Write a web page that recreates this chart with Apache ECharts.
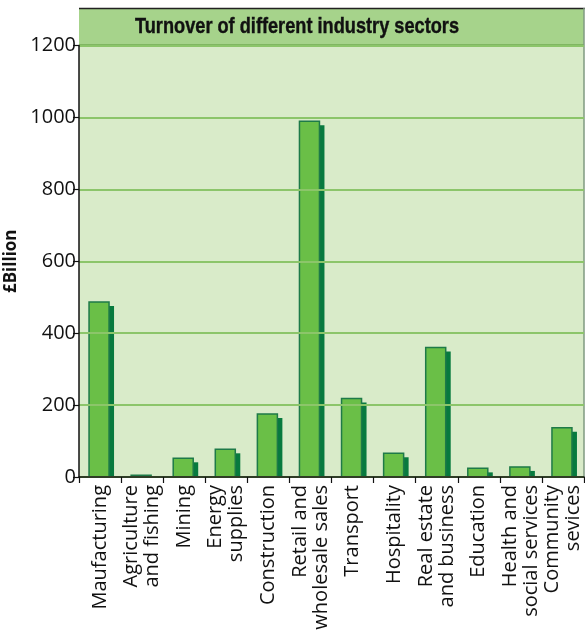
<!DOCTYPE html>
<html><head><meta charset="utf-8">
<script src="https://cdn.jsdelivr.net/npm/echarts@6/dist/echarts.min.js"></script>
<style>html,body{margin:0;padding:0;background:#fff}#c{width:585px;height:637px}</style>
</head><body><div id="c"></div>
<script>
const categories = ['Maufacturing','Agriculture\nand fishing','Mining','Energy\nsupplies','Construction','Retail and\nwholesale sales','Transport','Hospitality','Real estate\nand business','Education','Health and\nsocial services','Community\nsevices'];
const turnover = [487, 5, 52, 77, 175, 989, 218, 66, 360, 24, 28, 137];
const yTicks = [0, 200, 400, 600, 800, 1000, 1200];
const titleText = 'Turnover of different industry sectors';
const yName = '£Billion';

const chart = echarts.init(document.getElementById('c'), null, {renderer:'canvas'});
const L = 79, R = 584, T = 45.5, B = 477;
const titleFont = 'bold 22px "Liberation Sans", sans-serif';
const mc = document.createElement('canvas').getContext('2d');
mc.font = titleFont;
const titleScale = 324 / mc.measureText(titleText).width;

function renderBar(params, api) {
  const idx = api.value(0), v = api.value(1);
  const top = api.coord([idx, v]);
  const base = api.coord([idx, 0]);
  const w = 20, dx = 5, dy = 4;
  const x0 = top[0] - w / 2 - 1;
  const h = base[1] - top[1];
  return {type: 'group', children: [
    {type: 'rect', shape: {x: x0 + dx, y: top[1] + dy, width: w, height: Math.max(0, h - dy)}, style: {fill: '#077a3e'}},
    {type: 'rect', shape: {x: x0, y: top[1], width: w, height: h}, style: {fill: '#6abf47', stroke: '#1e7a48', lineWidth: 1.5}}
  ]};
}

chart.setOption({
  animation: false,
  grid: {left: L, right: 585 - R, top: T, bottom: 637 - B, outerBoundsMode: 'none', containLabel: false,
    show: true, backgroundColor: '#d9ebc9', borderWidth: 0},
  xAxis: {
    type: 'category', data: categories, z: 10,
    axisLine: {lineStyle: {color: '#111', width: 1.5}},
    axisTick: {show: true, length: 6, lineStyle: {color: '#111', width: 1.2}},
    axisLabel: {rotate: 90, interval: 0, margin: 8, fontFamily: 'Open Sans', fontSize: 20, color: '#111', lineHeight: 21}
  },
  yAxis: {
    type: 'value', min: yTicks[0], max: yTicks[yTicks.length-1], interval: 200, z: 10,
    name: yName, nameLocation: 'middle', nameGap: 50,
    nameTextStyle: {fontFamily: 'Open Sans', fontWeight: 'bold', fontSize: 17, color: '#111'},
    axisLine: {show: true, lineStyle: {color: '#111', width: 1.5}},
    axisTick: {show: true, length: 6, lineStyle: {color: '#111', width: 1.2}},
    axisLabel: {margin: 3, fontFamily: 'Open Sans', fontSize: 20, color: '#111', formatter: v => String(v)},
    splitLine: {show: true, lineStyle: {color: '#8cc56a', width: 2}}
  },
  series: [{
    type: 'custom', renderItem: renderBar, z: 2,
    encode: {x: 0, y: 1},
    data: turnover.map((v, i) => [i, v])
  }],
  graphic: [
    {type: 'rect', z: 5, shape: {x: L, y: 8, width: R - L, height: T - 8}, style: {fill: '#a6d38b'}},
    {type: 'line', z: 6, shape: {x1: L, y1: 8.5, x2: R + 1, y2: 8.5}, style: {stroke: '#222', lineWidth: 1.5}},
    {type: 'line', z: 6, shape: {x1: L, y1: T, x2: R, y2: T}, style: {stroke: '#5a9a3a', lineWidth: 2}},
    {type: 'line', z: 6, shape: {x1: R, y1: 8, x2: R, y2: B}, style: {stroke: '#7f9a80', lineWidth: 1.5}},
    {type: 'text', z: 7, x: 297, y: 27, scaleX: titleScale, style: {text: titleText, x: 0, y: 0, align: 'center', verticalAlign: 'middle',
      font: titleFont, fill: '#111', stroke: '#111', lineWidth: 0.4}}
  ]
});
</script></body></html>
